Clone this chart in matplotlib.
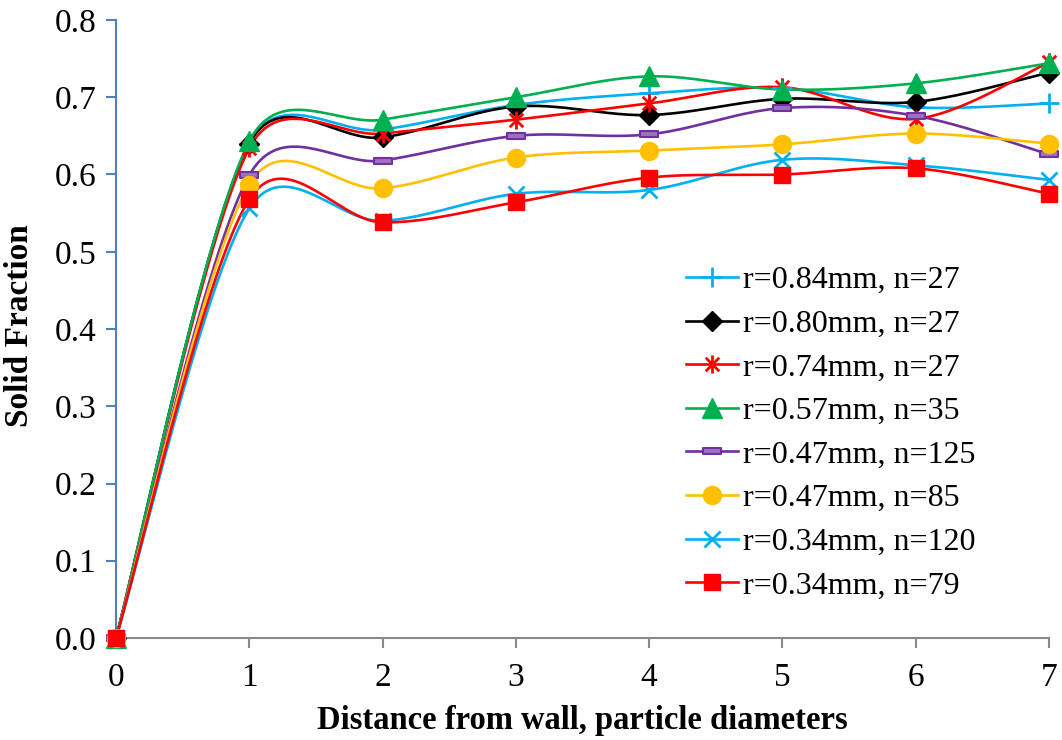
import numpy as np
import matplotlib
matplotlib.use('Agg')
import matplotlib.pyplot as plt
from matplotlib.path import Path

plt.rcParams['font.family'] = ['Liberation Serif', 'DejaVu Serif']

# Datos
distancia = [0, 1, 2, 3, 4, 5, 6, 7]
etiquetas = ['r=0.84mm, n=27', 'r=0.80mm, n=27', 'r=0.74mm, n=27', 'r=0.57mm, n=35',
             'r=0.47mm, n=125', 'r=0.47mm, n=85', 'r=0.34mm, n=120', 'r=0.34mm, n=79']
r084_n27 = [0.0, 0.640, 0.658, 0.690, 0.705, 0.712, 0.687, 0.692]
r080_n27 = [0.0, 0.640, 0.648, 0.688, 0.677, 0.698, 0.694, 0.732]
r074_n27 = [0.0, 0.634, 0.653, 0.671, 0.692, 0.713, 0.672, 0.745]
r057_n35 = [0.0, 0.643, 0.671, 0.700, 0.727, 0.710, 0.718, 0.744]
r047_n125 = [0.0, 0.599, 0.618, 0.650, 0.652, 0.686, 0.676, 0.626]
r047_n85 = [0.0, 0.587, 0.582, 0.622, 0.631, 0.639, 0.653, 0.640]
r034_n120 = [0.0, 0.556, 0.540, 0.575, 0.580, 0.619, 0.612, 0.593]
r034_n79 = [0.0, 0.568, 0.538, 0.564, 0.596, 0.600, 0.608, 0.575]
series = [r084_n27, r080_n27, r074_n27, r057_n35, r047_n125, r047_n85, r034_n120, r034_n79]

# estilos (tipo Excel)
asterisco = Path([(0, -1), (0, 1), (-0.75, -0.75), (0.75, 0.75), (-0.75, 0.75), (0.75, -0.75)],
                 [Path.MOVETO, Path.LINETO, Path.MOVETO, Path.LINETO, Path.MOVETO, Path.LINETO])
rectangulo = Path([(-1, -0.28), (1, -0.28), (1, 0.28), (-1, 0.28), (-1, -0.28)],
                  [Path.MOVETO, Path.LINETO, Path.LINETO, Path.LINETO, Path.CLOSEPOLY])
estilos = [
    dict(color='#00B0F0', marker='+', ms=14, mew=2),
    dict(color='black', marker='D', ms=10, mew=1),
    dict(color='#FF0000', marker=asterisco, ms=13, mew=2),
    dict(color='#00B050', marker='^', ms=14, mew=1),
    dict(color='#7030A0', marker=rectangulo, ms=13, mew=1.5, mfc='#9B72C2'),
    dict(color='#FFC000', marker='o', ms=13, mew=1),
    dict(color='#00B0F0', marker='x', ms=12, mew=2),
    dict(color='#FF0000', marker='s', ms=12, mew=1),
]


def suavizar(ax, x, y, n=40):
    # curva suavizada tipo Excel: Bezier con tangentes /6, limitadas a media cuerda (en pixeles)
    pts = ax.transData.transform(np.column_stack([x, y]))
    m = len(pts)
    out = []
    for i in range(m - 1):
        p0, p3 = pts[i], pts[i + 1]
        d = np.hypot(*(p3 - p0))
        t1 = (p3 - pts[max(i - 1, 0)]) / 6
        t2 = (pts[min(i + 2, m - 1)] - p0) / 6
        for t in (t1, t2):
            L = np.hypot(*t)
            if L > d / 2:
                t *= (d / 2) / L
        c1 = p0 + t1
        c2 = p3 - t2
        s = np.linspace(0, 1, n)[:, None]
        b = (1 - s) ** 3 * p0 + 3 * (1 - s) ** 2 * s * c1 + 3 * (1 - s) * s ** 2 * c2 + s ** 3 * p3
        out.append(b)
    out = ax.transData.inverted().transform(np.vstack(out))
    return out[:, 0], out[:, 1]


fig = plt.figure(figsize=(10.62, 7.4), dpi=100)
ax = fig.add_axes([116 / 1062, 102 / 740, 933 / 1062, 618 / 740])
ax.set_xlim(0, 7)
ax.set_ylim(0, 0.8)

for y, est, lab in zip(series, estilos, etiquetas):
    xs, ys = suavizar(ax, distancia, y)
    ax.plot(xs, ys, color=est['color'], linewidth=1.9, zorder=2)
    ax.plot(distancia, y, linestyle='', color=est['color'], marker=est['marker'],
            markersize=est['ms'], markeredgewidth=est['mew'],
            markerfacecolor=est.get('mfc', est['color']), markeredgecolor=est['color'],
            zorder=3, clip_on=False)
    # entrada de leyenda
    ax.plot([], [], color=est['color'], linewidth=1.9, marker=est['marker'],
            markersize=est['ms'], markeredgewidth=est['mew'],
            markerfacecolor=est.get('mfc', est['color']), markeredgecolor=est['color'], label=lab)

ax.set_xlim(0, 7)
ax.set_ylim(0, 0.8)
ax.set_xticks(range(0, 8))
ax.set_yticks(np.arange(0, 0.81, 0.1))
ax.set_yticklabels(['%.1f' % v for v in np.arange(0, 0.81, 0.1)])

ax.spines['top'].set_visible(False)
ax.spines['right'].set_visible(False)
ax.spines['left'].set_color('#4F81BD')
ax.spines['left'].set_linewidth(1.5)
ax.spines['bottom'].set_color('#898989')
ax.spines['bottom'].set_linewidth(1.5)
ax.tick_params(axis='y', direction='out', length=7, width=1.5, color='#4F81BD', labelsize=24, pad=7)
ax.tick_params(axis='x', direction='out', length=7, width=1.5, color='#898989', labelsize=24, pad=11)

ax.set_xlabel('Distance from wall, particle diameters', fontsize=23.5, fontweight='bold')
ax.set_ylabel('Solid Fraction', fontsize=24, fontweight='bold')
ax.xaxis.set_label_coords(0.5, -0.108)
ax.yaxis.set_label_coords(-0.087, 0.505)

ax.legend(loc='upper left', bbox_to_anchor=(0.611, 0.602), frameon=False, fontsize=23,
          handlelength=1.63, handletextpad=0.15, labelspacing=0.445, borderaxespad=0, borderpad=0)

fig.savefig('out.png', dpi=100)
